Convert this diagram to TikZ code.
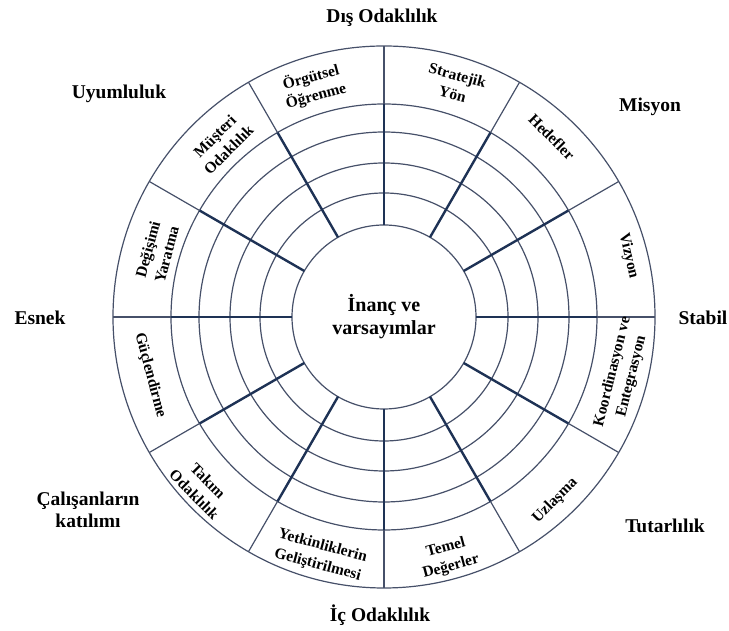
\documentclass[tikz,border=0pt]{standalone}
\usepackage{fontspec}
\setmainfont{Liberation Serif}
\usetikzlibrary{calc}
\definecolor{spokecol}{RGB}{30,50,85}
\definecolor{ringcol}{RGB}{70,80,105}
\begin{document}
\begin{tikzpicture}[x=1pt,y=1pt,
  outerlbl/.style={font=\fontsize{19.5}{22}\selectfont\bfseries, align=center, inner sep=0pt},
  centerlbl/.style={font=\fontsize{20}{23}\selectfont\bfseries, align=center, inner sep=0pt},
  bandlbl/.style={font=\fontsize{15.5}{19.5}\selectfont\bfseries, align=center, inner sep=0pt},
  ringline/.style={draw=ringcol, line width=1.2pt},
  spokethick/.style={draw=spokecol, line width=2.4pt},
  spokethin/.style={draw=ringcol, line width=1.2pt}]
\useasboundingbox (0,0) rectangle (729,631);
\coordinate (C) at (384,314);
% rings
\foreach \r in {92,124,154,185,213,271} \draw[ringline] (C) circle (\r);
% spokes
\foreach \a in {0,30,...,330} {
  \draw[spokethick] ($(C)+(\a:92)$) -- ($(C)+(\a:213)$);
  \draw[spokethin] ($(C)+(\a:213)$) -- ($(C)+(\a:271)$);
}
% centre
\node[centerlbl] (core) at (C) {İnanç ve\\varsayımlar};
% band labels (upper half)
\node[bandlbl, rotate=15] (ogr) at ($(C)+(107:241)$) {Örgütsel\\Öğrenme};
\node[bandlbl, rotate=-15] (str) at ($(C)+(73:243)$) {Stratejik\\Yön};
\node[bandlbl, rotate=-45] (hed) at ($(C)+(47:246)$) {Hedefler};
\node[bandlbl, rotate=-77] (viz) at ($(C)+(14:252)$) {Vizyon};
\node[bandlbl, rotate=75] (deg) at ($(C)+(164:236)$) {Değişimi\\Yaratma};
\node[bandlbl, rotate=45] (mus) at ($(C)+(133:238)$) {Müşteri\\Odaklılık};
% band labels (lower half)
\node[bandlbl, rotate=76] (koo) at ($(C)+(-13.5:245)$) {Koordinasyon ve\\Entegrasyon};
\node[bandlbl, rotate=45] (uzl) at ($(C)+(-47:251)$) {Uzlaşma};
\node[bandlbl, rotate=15] (tem) at ($(C)+(-75:249)$) {Temel\\Değerler};
\node[bandlbl, rotate=-15] (yet) at ($(C)+(-105:247)$) {Yetkinliklerin\\Geliştirilmesi};
\node[bandlbl, rotate=-45] (tak) at ($(C)+(-137:250)$) {Takım\\Odaklılık};
\node[bandlbl, rotate=-75] (guc) at ($(C)+(-166:241)$) {Güçlendirme};
% outer labels
\node[outerlbl] (dis) at (382,613) {Dış Odaklılık};
\node[outerlbl] (uyu) at (119,537) {Uyumluluk};
\node[outerlbl] (mis) at (650,524) {Misyon};
\node[outerlbl] (esn) at (40,313) {Esnek};
\node[outerlbl] (sta) at (703,313) {Stabil};
\node[outerlbl] (cal) at (88,121) {Çalışanların\\katılımı};
\node[outerlbl] (tut) at (665,105) {Tutarlılık};
\node[outerlbl] (ic) at (380,16) {İç Odaklılık};
\end{tikzpicture}
\end{document}
